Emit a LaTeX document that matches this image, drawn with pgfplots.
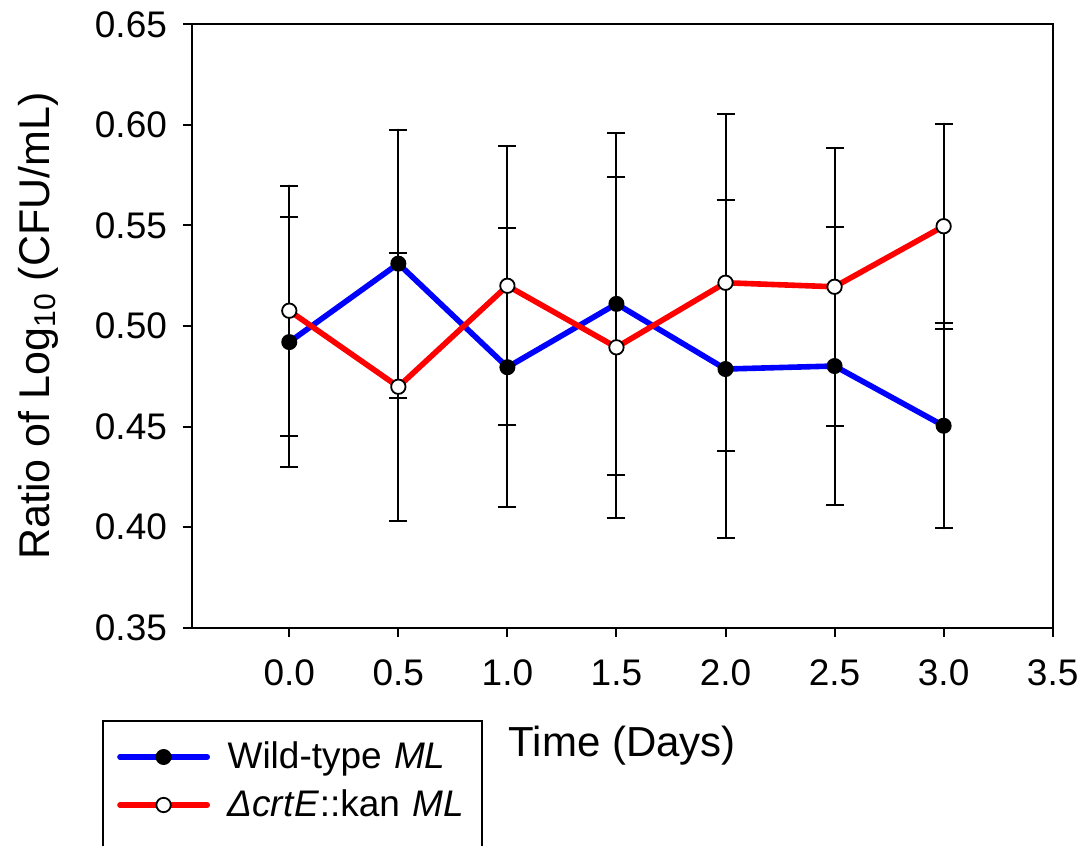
\documentclass[border=0pt]{standalone}
\usepackage{fontspec}
\setmainfont{Liberation Sans}
\usepackage{pgfplots}
\usepackage{pgfplotstable}
\pgfplotsset{compat=1.18}

\pgfplotstableread{
x    y       e
0.0  0.4920  0.0622
0.5  0.5310  0.0666
1.0  0.4795  0.0693
1.5  0.5110  0.0849
2.0  0.4786  0.0838
2.5  0.4801  0.0691
3.0  0.4504  0.0510
}\wildtype

\pgfplotstableread{
x    y       e
0.0  0.5076  0.0622
0.5  0.4698  0.0666
1.0  0.5200  0.0693
1.5  0.4894  0.0849
2.0  0.5215  0.0838
2.5  0.5195  0.0691
3.0  0.5496  0.0510
}\mutant

\begin{document}
\begin{tikzpicture}
\begin{axis}[
  at={(0pt,0pt)}, anchor=south west,
  scale only axis, width=430.35pt, height=301.7pt,
  xmin=-0.446, xmax=3.5, ymin=0.35, ymax=0.65,
  xtick={0,0.5,1,1.5,2,2.5,3,3.5},
  ytick={0.35,0.40,0.45,0.50,0.55,0.60,0.65},
  xtick pos=left, ytick pos=left,
  tick align=outside, major tick length=4.5pt,
  every tick/.style={black, line width=1pt},
  axis line style={line width=1pt},
  minor tick num=0,
  ticklabel style={font=\fontsize{18.5}{22}\selectfont},
  /pgf/number format/assume math mode=true,
  xticklabel style={yshift=-8pt, /pgf/number format/fixed, /pgf/number format/fixed zerofill, /pgf/number format/precision=1},
  yticklabel style={xshift=-4.5pt, /pgf/number format/fixed, /pgf/number format/fixed zerofill, /pgf/number format/precision=2},
  xlabel={Time (Days)},
  ylabel={Ratio of Log\textsubscript{10} (CFU/mL)},
  xlabel style={font=\fontsize{21}{24}\selectfont, at={(axis description cs:0.5,-0.2138)}, anchor=base},
  ylabel style={font=\fontsize{21.5}{24}\selectfont, at={(axis description cs:-0.166,0.5)}, anchor=base},
  legend style={at={(rel axis cs:-0.10457,-0.15297)}, anchor=north west,
    draw=black, line width=1pt, fill=white,
    inner xsep=0pt, inner ysep=8pt,
    nodes={inner sep=0pt, text width=127.2pt, font=\fontsize{18.5}{22}\selectfont}},
  legend cell align=left,
  legend image code/.code={
    \path[draw=none, fill=none] (-7.3pt,-14pt) rectangle (55pt,10pt);
    \draw[mark repeat=2,mark phase=2,#1] plot coordinates {(1.2pt,0pt) (23pt,0pt) (44.8pt,0pt)};
  },
]
\addplot[blue, line width=2.8pt, line cap=round, line join=round,
  mark=*, mark size=3.6pt, mark options={black, fill=black, line width=0.8pt},
  error bars/.cd, y dir=both, y explicit,
  error bar style={black, line width=1pt},
  error mark options={rotate=90, mark size=4.5pt, line width=1pt, black}]
  table[x=x, y=y, y error=e] {\wildtype};
\addlegendentry{Wild-type \textit{ML}}
\addplot[red, line width=2.8pt, line cap=round, line join=round,
  mark=*, mark size=3.6pt, mark options={draw=black, fill=white, line width=0.9pt},
  error bars/.cd, y dir=both, y explicit,
  error bar style={black, line width=1pt},
  error mark options={rotate=90, mark size=4.5pt, line width=1pt, black}]
  table[x=x, y=y, y error=e] {\mutant};
\addlegendentry{\textit{Δcrt\/E}::kan \textit{ML}}
\end{axis}
\pgfresetboundingbox
\useasboundingbox (-96pt,-109.15pt) rectangle (448.5pt,313.85pt);
\end{tikzpicture}
\end{document}
